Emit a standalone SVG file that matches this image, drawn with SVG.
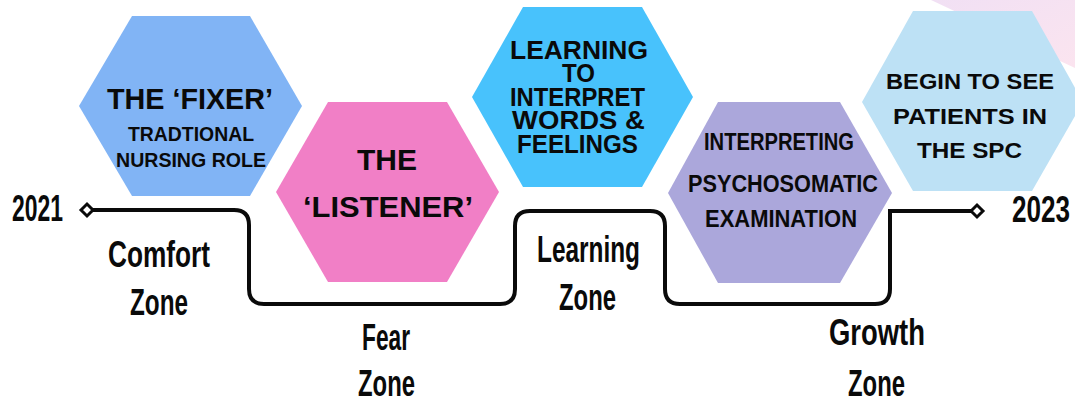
<svg xmlns="http://www.w3.org/2000/svg" width="1075" height="399" viewBox="0 0 1075 399">
<defs>
<linearGradient id="pinkbg" x1="0" y1="0" x2="1" y2="1">
<stop offset="0" stop-color="#f1e0f4"/>
<stop offset="1" stop-color="#fbe4ef"/>
</linearGradient>
<style>
.hx{font-family:"Liberation Sans",Arial,sans-serif;font-weight:700;fill:#0a0a0a;}
.hx3{font-family:"Liberation Sans",Arial,sans-serif;font-weight:700;fill:#0a0a0a;font-size:26.5px;}
.lbl{font-family:"Liberation Sans",Arial,sans-serif;font-weight:700;fill:#0a0a0a;font-size:37px;}
.yr{font-family:"Liberation Sans",Arial,sans-serif;font-weight:700;fill:#0a0a0a;font-size:36px;}
.line{fill:none;stroke:#0a0a0a;stroke-width:4;stroke-linejoin:miter;}
.dia{fill:#ffffff;stroke:#0a0a0a;stroke-width:3;}
</style>
</defs>
<rect width="1075" height="399" fill="#ffffff"/>
<polygon points="931,0 1075,0 1075,68" fill="url(#pinkbg)"/>

<g id="connectors">
<path class="line" d="M93,210 H234 Q249,210 249,225 V289 Q249,304 264,304 H500 Q515,304 515,289 V226 Q515,211 530,211 H650 Q665,211 665,226 V289 Q665,304 680,304 H875 Q890,304 890,289 V211 H971"/>
<polygon class="dia" points="81,210 87,204 93,210 87,216"/>
<polygon class="dia" points="971,211 977,205 983,211 977,217"/>
</g>

<g id="node-fixer">
<polygon points="79,106 132,16 250,16 302,106 250,196 132,196" fill="#81b4f5"/>
<text class="hx" x="107" y="109" font-size="30" textLength="166" lengthAdjust="spacingAndGlyphs">THE ‘FIXER’</text>
<text class="hx" x="128" y="141" font-size="19.5" textLength="126" lengthAdjust="spacingAndGlyphs">TRADTIONAL</text>
<text class="hx" x="116" y="167" font-size="19.5" textLength="150" lengthAdjust="spacingAndGlyphs">NURSING ROLE</text>
</g>

<g id="node-listener">
<polygon points="276,192 328,102 447,102 499,192 447,282 328,282" fill="#f17fc6"/>
<text class="hx" x="357" y="170" font-size="30" textLength="60" lengthAdjust="spacingAndGlyphs">THE</text>
<text class="hx" x="303" y="217" font-size="30" textLength="170" lengthAdjust="spacingAndGlyphs">‘LISTENER’</text>
</g>

<g id="node-learning">
<polygon points="472,97 523,7 642,7 693,97 642,187 523,187" fill="#48c2fc"/>
<text class="hx3" x="510" y="59" textLength="138" lengthAdjust="spacingAndGlyphs">LEARNING</text>
<text class="hx3" x="562" y="82" textLength="33" lengthAdjust="spacingAndGlyphs">TO</text>
<text class="hx3" x="510" y="106" textLength="135" lengthAdjust="spacingAndGlyphs">INTERPRET</text>
<text class="hx3" x="512" y="129" textLength="133" lengthAdjust="spacingAndGlyphs">WORDS &amp;</text>
<text class="hx3" x="517" y="153" textLength="121" lengthAdjust="spacingAndGlyphs">FEELINGS</text>
</g>

<g id="node-interpreting">
<polygon points="668,193 718,102 840,102 892,193 840,283 718,283" fill="#aba7db"/>
<text class="hx" x="704" y="150" font-size="23" textLength="150" lengthAdjust="spacingAndGlyphs">INTERPRETING</text>
<text class="hx" x="688" y="192" font-size="23" textLength="190" lengthAdjust="spacingAndGlyphs">PSYCHOSOMATIC</text>
<text class="hx" x="705" y="227" font-size="23" textLength="152" lengthAdjust="spacingAndGlyphs">EXAMINATION</text>
</g>

<g id="node-patients">
<polygon points="862,102 913,11 1032,11 1083,102 1032,191 913,191" fill="#bde1f5"/>
<text class="hx" x="886" y="89" font-size="22" textLength="168" lengthAdjust="spacingAndGlyphs">BEGIN TO SEE</text>
<text class="hx" x="893" y="124" font-size="22" textLength="154" lengthAdjust="spacingAndGlyphs">PATIENTS IN</text>
<text class="hx" x="917" y="158" font-size="22" textLength="105" lengthAdjust="spacingAndGlyphs">THE SPC</text>
</g>

<g id="years">
<text class="yr" x="12" y="221" textLength="51" lengthAdjust="spacingAndGlyphs">2021</text>
<text class="yr" x="1012" y="222" textLength="58" lengthAdjust="spacingAndGlyphs">2023</text>
</g>

<g id="zone-labels">
<text class="lbl" x="108" y="267" textLength="102" lengthAdjust="spacingAndGlyphs">Comfort</text>
<text class="lbl" x="130" y="315" textLength="58" lengthAdjust="spacingAndGlyphs">Zone</text>
<text class="lbl" x="362" y="350" textLength="48" lengthAdjust="spacingAndGlyphs">Fear</text>
<text class="lbl" x="358" y="396" textLength="57" lengthAdjust="spacingAndGlyphs">Zone</text>
<text class="lbl" x="537" y="262" textLength="103" lengthAdjust="spacingAndGlyphs">Learning</text>
<text class="lbl" x="559" y="310" textLength="57" lengthAdjust="spacingAndGlyphs">Zone</text>
<text class="lbl" x="829" y="345" textLength="96" lengthAdjust="spacingAndGlyphs">Growth</text>
<text class="lbl" x="848" y="396" textLength="57" lengthAdjust="spacingAndGlyphs">Zone</text>
</g>
</svg>
